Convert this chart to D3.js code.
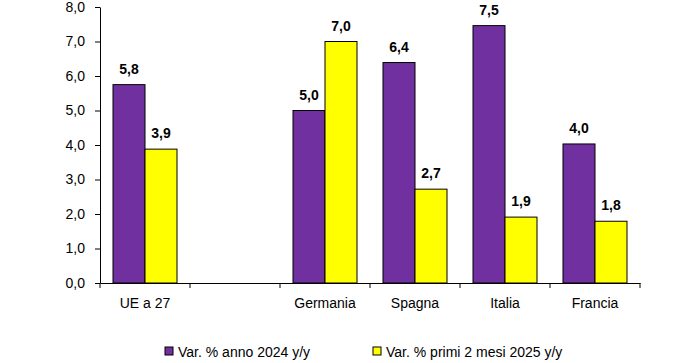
<!DOCTYPE html>
<html>
<head>
<meta charset="utf-8">
<script src="https://cdn.jsdelivr.net/npm/d3@7"></script>
<style>
  body { margin: 0; background: #fff; }
  svg { font-family: "Liberation Sans", Arial, sans-serif; }
</style>
</head>
<body>
<svg id="chart" width="700" height="363"></svg>
<script>
var categories = ["UE a 27", "", "Germania", "Spagna", "Italia", "Francia"]
var series2024 = [5.75, null, 5.0, 6.39, 7.46, 4.03]
var series2025 = [3.88, null, 7.0, 2.72, 1.91, 1.79]
var seriesNames = ["Var. % anno 2024 y/y", "Var. % primi 2 mesi 2025 y/y"]
var yTicks = [0, 1, 2, 3, 4, 5, 6, 7, 8]

var colors = ["#7030a0", "#ffff00"]
var fmt = d => d.toFixed(1).replace(".", ",")

var svg = d3.select("#chart")
var m = {left: 100, right: 640, top: 7, bottom: 283}

var x = d3.scaleBand()
    .domain(categories)
    .range([m.left, m.right])
    .paddingInner(0)
    .paddingOuter(0)

var inner = d3.scaleBand()
    .domain([0, 1])
    .range([13, x.bandwidth() - 13])

var y = d3.scaleLinear()
    .domain([0, 8])
    .range([m.bottom, m.top])

// y axis
svg.append("g")
    .attr("transform", "translate(" + m.left + ",0)")
    .call(d3.axisLeft(y).tickValues(yTicks).tickFormat(fmt).tickSize(5).tickSizeOuter(0).tickPadding(10))
    .call(g => g.selectAll("text").attr("font-size", 14).attr("fill", "#000").attr("font-family", null))
    .call(g => g.selectAll("line,path").attr("stroke", "#000"))

// bars
var rows = []
categories.forEach(function(c, i) {
    [series2024, series2025].forEach(function(s, k) {
        if (s[i] != null) rows.push({cat: c, k: k, v: s[i]})
    })
})

var bars = svg.append("g")
bars.selectAll("rect")
    .data(rows)
    .join("rect")
    .attr("x", d => x(d.cat) + inner(d.k))
    .attr("width", inner.bandwidth())
    .attr("y", d => y(d.v))
    .attr("height", d => y(0) - y(d.v))
    .attr("fill", d => colors[d.k])
    .attr("stroke", "#000")
    .attr("stroke-width", 1)

bars.selectAll("text")
    .data(rows)
    .join("text")
    .attr("x", d => x(d.cat) + inner(d.k) + inner.bandwidth() / 2)
    .attr("y", d => y(d.v) - 11)
    .attr("text-anchor", "middle")
    .attr("font-size", 14)
    .attr("font-weight", "bold")
    .text(d => fmt(d.v))

// x axis
var xa = svg.append("g")
    .attr("transform", "translate(0," + m.bottom + ")")
xa.call(d3.axisBottom(x).tickSize(0).tickSizeOuter(0).tickPadding(15))
    .call(g => g.selectAll("text").attr("font-size", 14).attr("fill", "#000").attr("font-family", null))
    .call(g => g.select(".domain").attr("stroke", "#000"))

var edges = categories.map(c => x(c)).concat([x.range()[1]])
xa.selectAll(".edge")
    .data(edges)
    .join("line")
    .attr("class", "edge")
    .attr("x1", d => d).attr("x2", d => d)
    .attr("y1", 0).attr("y2", 5)
    .attr("stroke", "#000")

// legend
var legX = [165, 373]
var leg = svg.append("g").selectAll("g")
    .data(seriesNames)
    .join("g")
    .attr("transform", (d, i) => "translate(" + legX[i] + ",347)")
leg.append("rect")
    .attr("width", 8).attr("height", 8)
    .attr("fill", (d, i) => colors[i])
    .attr("stroke", "#000")
leg.append("text")
    .attr("x", 13).attr("y", 10)
    .attr("font-size", 14)
    .text(d => d)
</script>
</body>
</html>
